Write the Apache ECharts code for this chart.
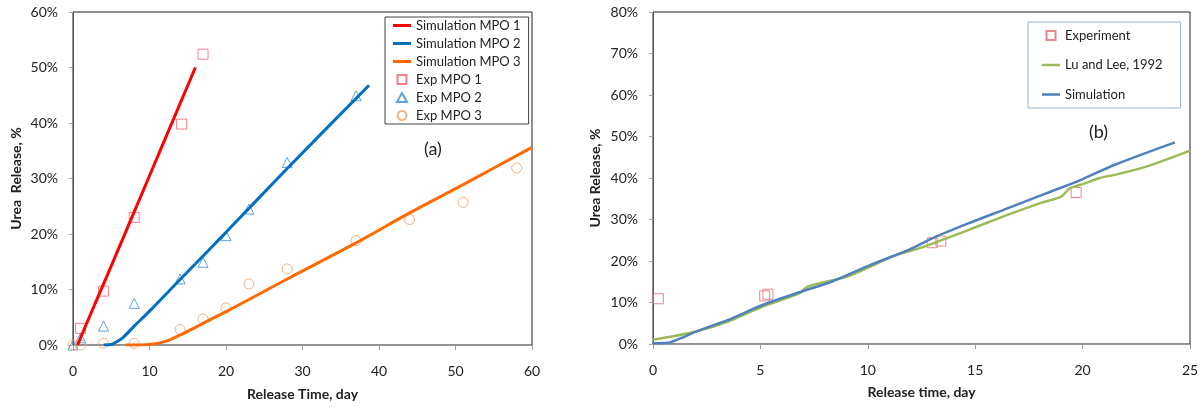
<!DOCTYPE html>
<html>
<head>
<meta charset="utf-8">
<script src="https://cdn.jsdelivr.net/npm/echarts@6/dist/echarts.min.js"></script>
<style>
  html, body { margin: 0; padding: 0; background: #fff; }
  #chart { width: 1203px; height: 407px; }
</style>
</head>
<body>
<div id="chart"></div>
<script>
// panel (a): [day, release %]
var simMpo1 = [[0.6, 0], [2, 4.6], [4, 11], [8, 24], [12, 37], [16, 50]];
var simMpo2 = [[4, 0], [5, 0.1], [5.6, 0.5], [6.5, 1.3], [8, 3.4], [10, 6.1], [14, 11.8], [20, 20.3], [28, 31.8], [38.7, 46.8]];
var simMpo3 = [[6.9, 0], [10, 0.1], [12, 0.6], [14, 1.8], [17, 3.9], [20, 6.0], [23, 8.2], [28, 11.9], [37, 18.4], [44, 23.8], [51, 28.9], [60, 35.6]];
var expMpo1 = [[1, 3], [4, 9.7], [8, 23], [14.2, 39.8], [17, 52.4]];
var expMpo2 = [[0, 0], [1, 1.3], [4, 3.4], [8, 7.5], [14, 11.9], [17, 14.9], [20, 19.7], [23, 24.5], [28, 32.9], [37, 44.9]];
var expMpo3 = [[0, 0], [1, 0], [4, 0.3], [8, 0.3], [14, 2.8], [17, 4.7], [20, 6.7], [23, 11], [28, 13.7], [37, 18.8], [44, 22.6], [51, 25.7], [58, 31.9]];

// panel (b)
var experiment = [[0.25, 10.9], [5.2, 11.6], [5.35, 12.0], [13.0, 24.4], [13.4, 24.8], [19.7, 36.5]];
var luLee = [[0, 1], [2, 3], [3.5, 5.4], [5.1, 9.0], [6.8, 12.2], [7.2, 13.8], [9, 16.2], [10.1, 18.6], [11.2, 21.2], [12.6, 23.4], [14.7, 27.5], [16.5, 31.1], [18, 33.9], [19, 35.5], [19.4, 37.5], [20.1, 38.7], [20.8, 40.0], [21.7, 41.0], [23, 42.8], [25, 46.6]];
var simulation = [[0, 0.2], [0.7, 0.3], [1.3, 1.4], [2, 3.0], [3.5, 5.8], [5.1, 9.4], [6.9, 12.6], [8.3, 15.0], [10.1, 19.0], [11.9, 22.7], [13.1, 25.7], [14.7, 29.1], [16.5, 32.7], [18.3, 36.3], [19.9, 39.5], [21.5, 43.2], [24.3, 48.6]];

var FONT = 'Lato';

// legend icons
var ICON_LINE = 'path://M0,0H18V3H0Z';
var ICON_LINE_THIN = 'path://M0,0H18V2.5H0Z';
var ICON_SQUARE = 'path://M0,0H9V9H0Z';
var ICON_TRIANGLE = 'path://M4.5,0L9,8L0,8Z';
var ICON_CIRCLE = 'path://M0,4.5A4.5,4.5 0 1,0 9,4.5A4.5,4.5 0 1,0 0,4.5Z';

function xAxisOf(idx, max, step, name, gap) {
  return {
    type: 'value', gridIndex: idx, min: 0, max: max, interval: step,
    name: name, nameLocation: 'middle', nameGap: gap,
    nameTextStyle: { fontFamily: FONT, fontWeight: 'bold', fontSize: 14, color: '#222' },
    axisLine: { show: true, lineStyle: { color: '#999', width: 1 } },
    axisTick: { show: true, inside: false, length: 5, lineStyle: { color: '#999' } },
    axisLabel: { fontFamily: FONT, fontSize: 14, color: '#222', margin: 19 },
    splitLine: { show: false }
  };
}

function yAxisOf(idx, max, name, gap) {
  return {
    type: 'value', gridIndex: idx, min: 0, max: max, interval: 10,
    name: name, nameLocation: 'middle', nameGap: gap,
    nameTextStyle: { fontFamily: FONT, fontWeight: 'bold', fontSize: 14, color: '#222' },
    axisLine: { show: true, lineStyle: { color: '#555', width: 1 } },
    axisTick: { show: true, inside: false, length: 4, lineStyle: { color: '#aaa' } },
    axisLabel: { fontFamily: FONT, fontSize: 14, color: '#222', margin: 15, formatter: '{value}%' },
    splitLine: { show: false }
  };
}

function lineSeries(name, data, color, width, idx) {
  return {
    name: name, type: 'line', data: data, xAxisIndex: idx, yAxisIndex: idx,
    symbol: 'none', smooth: 0.3, clip: true,
    lineStyle: { color: color, width: width }, itemStyle: { color: color }
  };
}

function markerSeries(name, data, symbol, color, size, idx) {
  return {
    name: name, type: 'scatter', data: data, xAxisIndex: idx, yAxisIndex: idx,
    symbol: symbol, symbolSize: size,
    itemStyle: { color: 'rgba(255,255,255,0)', borderColor: color, borderWidth: 1 }
  };
}

var legendText = { fontFamily: FONT, fontSize: 13, color: '#222' };

var option = {
  backgroundColor: '#fff',
  animation: false,
  grid: [
    { left: 73, top: 12, width: 459, height: 333, show: true, borderColor: '#222', borderWidth: 1, backgroundColor: '#fff' },
    { left: 653, top: 12, width: 537, height: 332, show: true, borderColor: '#222', borderWidth: 1, backgroundColor: '#fff' }
  ],
  xAxis: [
    xAxisOf(0, 60, 10, 'Release Time, day', 42),
    xAxisOf(1, 25, 5, 'Release time, day', 41)
  ],
  yAxis: [
    yAxisOf(0, 60, 'Urea  Release, %', 50),
    yAxisOf(1, 80, 'Urea Release, %', 51)
  ],
  legend: [
    {
      orient: 'vertical', left: 385, top: 17,
      itemWidth: 18, itemHeight: 9, itemGap: 5,
      symbolKeepAspect: true,
      padding: [2, 8, 2, 8],
      borderColor: '#444', borderWidth: 1, backgroundColor: '#fff',
      textStyle: legendText,
      data: [
        { name: 'Simulation MPO 1', icon: ICON_LINE },
        { name: 'Simulation MPO 2', icon: ICON_LINE },
        { name: 'Simulation MPO 3', icon: ICON_LINE },
        { name: 'Exp MPO 1', icon: ICON_SQUARE },
        { name: 'Exp MPO 2', icon: ICON_TRIANGLE },
        { name: 'Exp MPO 3', icon: ICON_CIRCLE }
      ]
    },
    {
      orient: 'vertical', left: 1028, top: 22,
      itemWidth: 18, itemHeight: 9, itemGap: 16.5,
      symbolKeepAspect: true,
      padding: [7, 18, 7, 14],
      borderColor: '#95b3d7', borderWidth: 1, backgroundColor: '#fff',
      textStyle: legendText,
      data: [
        { name: 'Experiment', icon: ICON_SQUARE },
        { name: 'Lu and Lee, 1992', icon: ICON_LINE_THIN },
        { name: 'Simulation', icon: ICON_LINE_THIN }
      ]
    }
  ],
  graphic: [
    { type: 'text', left: 424, top: 140, style: { text: '(a)', font: '18px Lato', fill: '#222' } },
    { type: 'text', left: 1089, top: 123, style: { text: '(b)', font: '18px Lato', fill: '#222' } }
  ],
  series: [
    lineSeries('Simulation MPO 1', simMpo1, '#ff0000', 3, 0),
    lineSeries('Simulation MPO 2', simMpo2, '#0070c0', 3, 0),
    lineSeries('Simulation MPO 3', simMpo3, '#ff6a00', 3, 0),
    markerSeries('Exp MPO 1', expMpo1, 'rect', '#f06070', 10, 0),
    markerSeries('Exp MPO 2', expMpo2, 'triangle', '#3a8ad8', 10, 0),
    markerSeries('Exp MPO 3', expMpo3, 'circle', '#eea060', 10, 0),
    markerSeries('Experiment', experiment, 'rect', '#e06870', 10, 1),
    lineSeries('Lu and Lee, 1992', luLee, '#9bbb59', 2.5, 1),
    lineSeries('Simulation', simulation, '#4f81bd', 2.5, 1)
  ]
};

var chart = echarts.init(document.getElementById('chart'));
chart.setOption(option);
</script>
</body>
</html>
